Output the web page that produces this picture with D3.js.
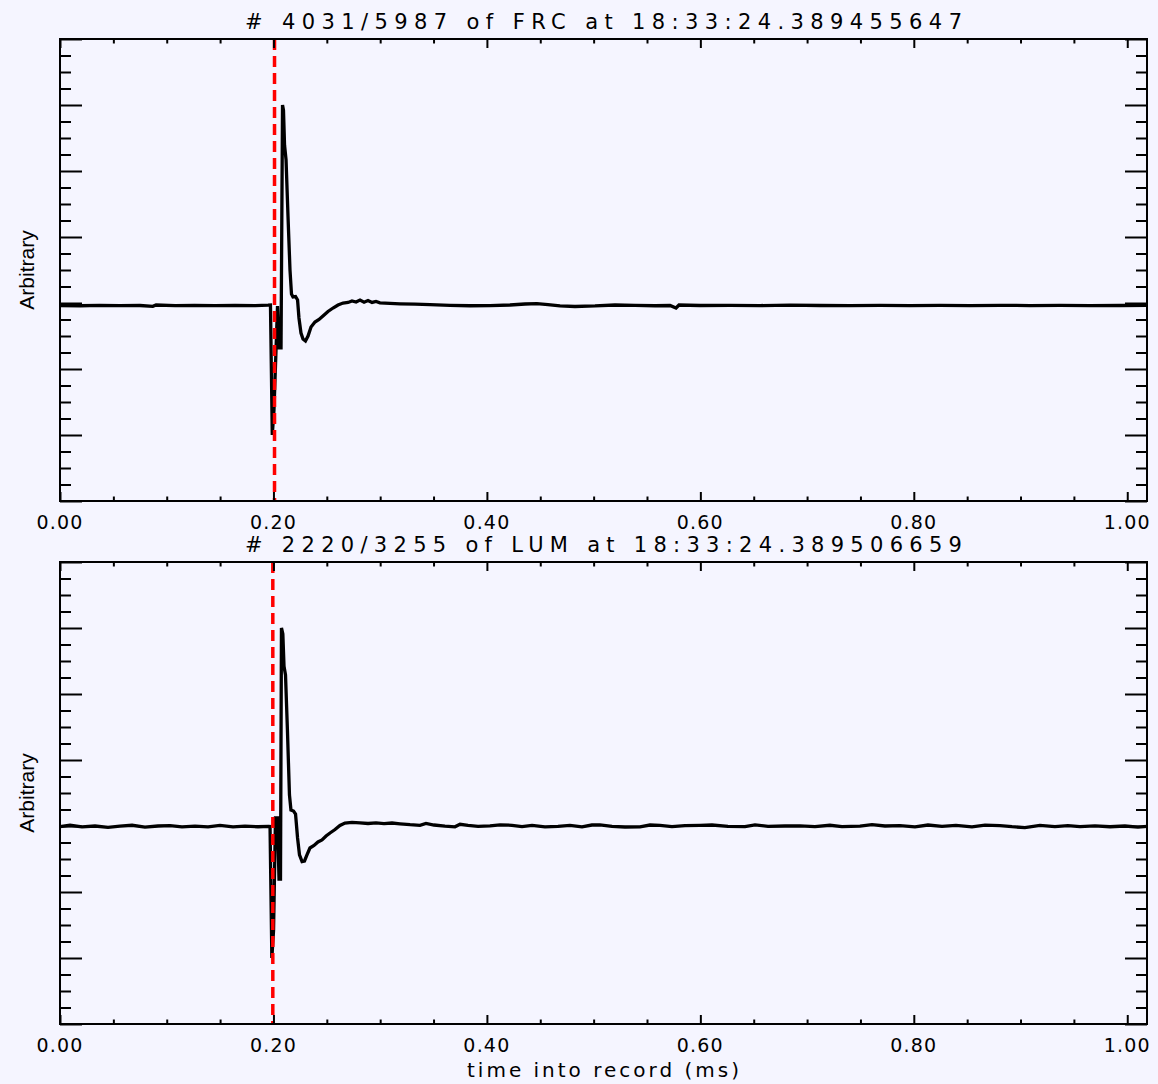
<html>
    <script src="https://d3js.org/d3.v7.min.js"></script>
    <body style="margin:0;background:#f5f5ff">
        <svg id="myPlot" style="width:1158px;height:1084px;display:block"></svg>
        <script>
            // Data (time in ms, amplitude in arbitrary units)
            const frcTime = [0.000,0.019,0.037,0.056,0.075,0.087,0.090,0.108,0.126,0.145,0.164,0.183,0.195,
                0.1972,0.1989,0.2005,0.2024,0.2038,0.2052,0.2071,0.2085,0.2094,0.2104,0.2118,0.2136,0.2155,0.2169,
                0.2183,0.2207,0.2226,0.2239,0.2258,0.2277,0.2300,0.2324,0.2352,0.2389,0.2427,0.2464,0.2511,0.2558,
                0.2605,0.2652,0.2699,0.2736,0.2774,0.2811,0.2849,0.2886,0.2924,0.2961,0.2998,0.3092,0.3186,0.3326,
                0.3467,0.3654,0.3842,0.4029,0.4216,0.4357,0.4469,0.4572,0.4685,0.4825,0.5013,0.5200,0.5388,0.5575,
                0.5716,0.5772,0.5800,0.5997,0.6278,0.6559,0.6840,0.7121,0.7402,0.7683,0.7964,0.8245,0.8526,0.8807,
                0.9088,0.9369,0.9651,0.9932,1.0185];
            const frcValue = [-0.038,-0.042,-0.036,-0.041,-0.038,-0.050,-0.030,-0.039,-0.036,-0.041,-0.035,-0.039,-0.033,
                -0.030,-2.00,-1.62,-0.71,-0.045,-0.68,-0.68,3.00,2.92,2.39,2.17,1.33,0.50,0.136,
                0.091,0.098,0.045,-0.227,-0.455,-0.545,-0.576,-0.500,-0.364,-0.288,-0.250,-0.197,-0.129,-0.076,
                -0.030,0.000,0.008,0.030,0.015,0.045,0.011,0.038,0.008,0.023,0.003,-0.005,-0.012,-0.018,
                -0.024,-0.035,-0.042,-0.039,-0.030,-0.015,-0.008,-0.023,-0.045,-0.053,-0.045,-0.030,-0.035,-0.042,
                -0.038,-0.076,-0.030,-0.038,-0.035,-0.039,-0.033,-0.038,-0.041,-0.035,-0.039,-0.036,-0.041,-0.035,
                -0.039,-0.036,-0.041,-0.038,-0.035];

            const lumTime = [0.000,0.0094,0.0206,0.0328,0.0450,0.0562,0.0675,0.0796,0.0918,0.1031,0.1143,0.1265,0.1387,
                0.1499,0.1621,0.1733,0.1855,0.1954,0.1968,0.1985,0.2001,0.2019,0.2038,0.2052,0.2066,0.2075,0.2088,
                0.2099,0.2113,0.2131,0.2150,0.2164,0.2188,0.2207,0.2226,0.2244,0.2268,0.2291,0.2314,0.2342,0.2380,
                0.2417,0.2455,0.2493,0.2530,0.2577,0.2623,0.2670,0.2736,0.2811,0.2886,0.2961,0.3036,0.3111,0.3186,
                0.3280,0.3373,0.3429,0.3504,0.3607,0.3701,0.3748,0.3823,0.3917,0.4029,0.4123,0.4235,0.4329,0.4423,
                0.4544,0.4666,0.4778,0.4891,0.4984,0.5059,0.5172,0.5294,0.5434,0.5528,0.5622,0.5734,0.5856,0.5997,
                0.6109,0.6259,0.6418,0.6512,0.6634,0.6793,0.6933,0.7074,0.7214,0.7327,0.7496,0.7608,0.7730,0.7870,
                0.8011,0.8133,0.8264,0.8395,0.8545,0.8667,0.8807,0.8920,0.9041,0.9182,0.9322,0.9444,0.9557,0.9697,
                0.9838,0.9978,1.0100,1.0185];
            const lumValue = [-0.008,0.011,-0.012,0.000,-0.020,-0.003,0.011,-0.018,0.000,0.006,-0.014,-0.002,-0.012,
                0.008,-0.014,-0.003,-0.011,-0.005,-0.008,-2.00,-1.58,0.121,0.121,-0.803,-0.803,3.00,2.91,
                2.42,2.29,1.45,0.47,0.242,0.227,0.182,-0.182,-0.439,-0.538,-0.530,-0.439,-0.333,-0.295,
                -0.242,-0.212,-0.152,-0.106,-0.053,0.008,0.045,0.056,0.048,0.038,0.048,0.036,0.045,0.033,
                0.020,0.011,0.038,0.015,-0.003,-0.012,0.026,0.008,-0.005,0.003,0.018,0.011,-0.009,0.008,
                -0.012,-0.005,0.009,-0.014,0.015,0.018,-0.006,-0.015,-0.012,0.015,0.008,-0.009,0.005,0.009,
                0.015,-0.005,-0.009,0.018,-0.006,0.000,0.003,-0.008,0.011,-0.009,-0.003,0.021,0.000,0.006,
                -0.012,0.015,-0.005,0.009,-0.012,0.012,0.006,-0.011,-0.024,0.009,-0.009,0.006,-0.008,0.002,
                -0.011,0.000,-0.018,-0.006];

            const xMajor = [0, 0.2, 0.4, 0.6, 0.8, 1.0];
            const xMinor = [0.05, 0.1, 0.15, 0.25, 0.3, 0.35, 0.45, 0.5, 0.55, 0.65, 0.7, 0.75, 0.85, 0.9, 0.95];
            const yMajor = [-3, -2, -1, 0, 1, 2, 3, 4];
            const yMinor = d3.range(-3, 4.01, 0.25).filter(v => !yMajor.includes(v));

            const panels = [
                {title: "# 4031/5987 of FRC at 18:33:24.389455647", time: frcTime, value: frcValue, marker: 0.2010, top: 39, bottom: 501},
                {title: "# 2220/3255 of LUM at 18:33:24.389506659", time: lumTime, value: lumValue, marker: 0.1994, top: 562, bottom: 1024}
            ];

            // Set Dimensions
            const left = 60, right = 1147;
            const tickFont = "'DejaVu Sans', sans-serif";

            const svg = d3.select("#myPlot");

            svg.append("rect")
            .attr("width", 1158).attr("height", 1084)
            .attr("fill", "#f5f5ff");

            const x = d3.scaleLinear()
            .domain([0, 1.0185])
            .range([left, right]);

            panels.forEach(function (p) {
                const y = d3.scaleLinear()
                .domain([-3, 4])
                .range([p.bottom, p.top]);

                const g = svg.append("g");

                // Trace
                const line = d3.line()
                .x(function (d, i) { return x(p.time[i]) })
                .y(function (d) { return y(d) });

                g.append("path")
                .datum(p.value)
                .attr("d", line)
                .attr("fill", "none")
                .attr("stroke", "#000")
                .attr("stroke-width", 3.3)
                .attr("stroke-linejoin", "miter")
                .attr("stroke-miterlimit", 2);

                // Trigger marker
                g.append("line")
                .attr("x1", x(p.marker)).attr("x2", x(p.marker))
                .attr("y1", p.top).attr("y2", p.bottom)
                .attr("stroke", "#ff0000")
                .attr("stroke-width", 3.5)
                .attr("stroke-dasharray", "11,6");

                // X Axes (major + minor, bottom and top)
                const axes = [
                    [d3.axisBottom(x).tickValues(xMajor).tickSize(-9), p.bottom],
                    [d3.axisBottom(x).tickValues(xMinor).tickSize(-4.5), p.bottom],
                    [d3.axisTop(x).tickValues(xMajor).tickSize(-9), p.top],
                    [d3.axisTop(x).tickValues(xMinor).tickSize(-4.5), p.top]
                ];
                axes.forEach(function (a) {
                    g.append("g")
                    .attr("transform", "translate(0," + a[1] + ")")
                    .call(a[0].tickSizeOuter(0).tickFormat(""));
                });

                // Y Axes
                const yAxes = [
                    [d3.axisLeft(y).tickValues(yMajor).tickSize(-22), left],
                    [d3.axisLeft(y).tickValues(yMinor).tickSize(-11), left],
                    [d3.axisRight(y).tickValues(yMajor).tickSize(-22), right],
                    [d3.axisRight(y).tickValues(yMinor).tickSize(-11), right]
                ];
                yAxes.forEach(function (a) {
                    g.append("g")
                    .attr("transform", "translate(" + a[1] + ",0)")
                    .call(a[0].tickSizeOuter(0).tickFormat(""));
                });

                g.selectAll(".domain").remove();
                g.selectAll(".tick line").attr("stroke", "#000").attr("stroke-width", 2);

                // Frame
                g.append("rect")
                .attr("x", left).attr("y", p.top)
                .attr("width", right - left).attr("height", p.bottom - p.top)
                .attr("fill", "none")
                .attr("stroke", "#000")
                .attr("stroke-width", 2);

                // Tick labels
                g.selectAll(".xlab")
                .data(xMajor).enter()
                .append("text")
                .attr("x", function (d) { return x(d) })
                .attr("y", p.bottom + 28)
                .attr("text-anchor", "middle")
                .attr("font-family", tickFont)
                .attr("font-size", 19)
                .attr("letter-spacing", 1.2)
                .text(function (d) { return d.toFixed(2) });

                // Title
                g.append("text")
                .attr("x", 245).attr("y", p.top - 10)
                .attr("textLength", 717)
                .attr("lengthAdjust", "spacing")
                .attr("font-family", tickFont)
                .attr("font-size", 21)
                .text(p.title);

                // Y label
                g.append("text")
                .attr("transform", "translate(34," + (p.top + p.bottom) / 2 + ") rotate(-90)")
                .attr("text-anchor", "middle")
                .attr("font-family", "'Liberation Sans Narrow', 'Liberation Sans', sans-serif")
                .attr("font-size", 21)
                .text("Arbitrary");
            });

            // X label
            svg.append("text")
            .attr("x", 467).attr("y", 1077)
            .attr("textLength", 272)
            .attr("lengthAdjust", "spacing")
            .attr("font-family", tickFont)
            .attr("font-size", 20)
            .text("time into record (ms)");
        </script>
    </body>
</html>
